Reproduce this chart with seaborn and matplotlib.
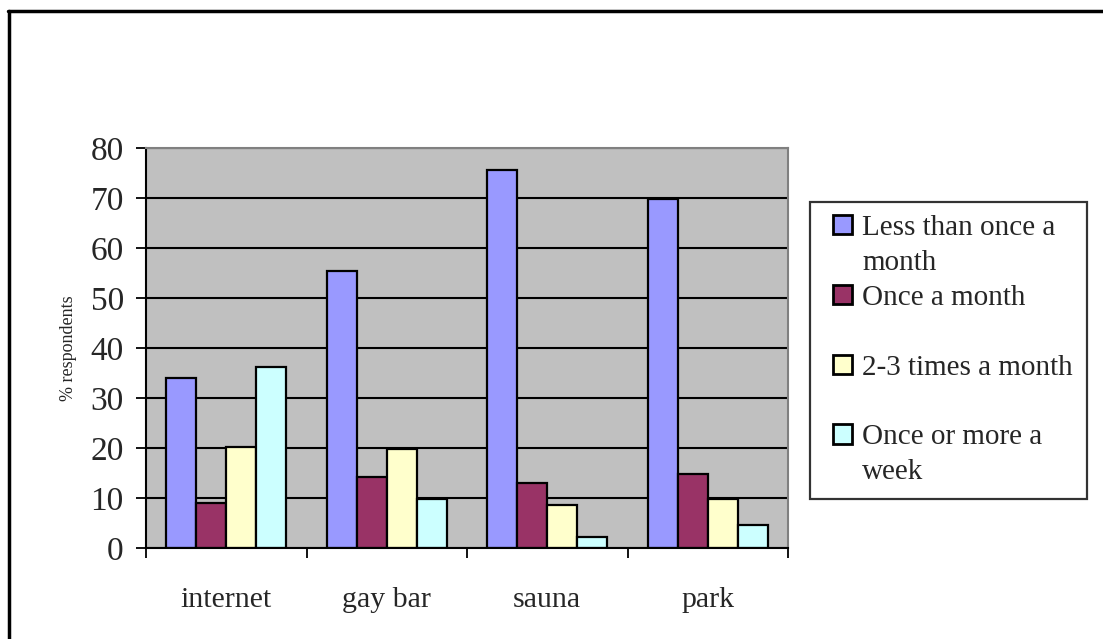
import pandas as pd
import matplotlib
matplotlib.use("Agg")
import matplotlib.pyplot as plt
from matplotlib.lines import Line2D
from matplotlib.offsetbox import DrawingArea
from matplotlib.ticker import FixedLocator
import seaborn as sns

# data
venues = ["internet", "gay bar", "sauna", "park"]
frequencies = ["Less than once a month", "Once a month",
               "2-3 times a month", "Once or more a week"]
less_than_monthly = [34.0, 55.5, 75.6, 69.9]
once_a_month = [9.1, 14.3, 13.1, 14.8]
two_three_monthly = [20.3, 19.9, 8.7, 9.9]
weekly_or_more = [36.3, 9.9, 2.3, 4.7]
legend_labels = ["Less than once a\nmonth", "Once a month\n ",
                 "2-3 times a month\n ", "Once or more a\nweek"]
colors = ["#9999FF", "#993366", "#FFFFCC", "#CCFFFF"]

rows = []
for series, vals in zip(frequencies, [less_than_monthly, once_a_month,
                                      two_three_monthly, weekly_or_more]):
    for v, val in zip(venues, vals):
        rows.append({"venue": v, "frequency": series, "pct": val})
df = pd.DataFrame(rows)

sns.set_style("white")
plt.rcParams["font.family"] = ["Liberation Serif", "DejaVu Serif"]

fig = plt.figure(figsize=(11.03, 6.39), dpi=100)
ax = fig.add_axes([146 / 1103, 1 - 548 / 639, 642 / 1103, 400 / 639])
ax.set_facecolor("#C0C0C0")

sns.barplot(data=df, x="venue", y="pct", hue="frequency", order=venues,
            hue_order=frequencies, palette=colors, width=0.75,
            edgecolor="black", linewidth=1.6, saturation=1, ax=ax,
            legend=True)

ax.set_ylim(0, 80)
ax.set_xlim(-0.5, 3.5)
ax.set_yticks(range(0, 81, 10))
ax.yaxis.grid(True, color="black", linewidth=1.5)
ax.set_axisbelow(True)
ax.tick_params(axis="y", labelsize=24, length=7, width=1.3, pad=9,
               color="black", left=True)
ax.tick_params(axis="x", which="major", labelsize=21.5, length=0, pad=28)
ax.xaxis.set_minor_locator(FixedLocator([-0.5, 0.5, 1.5, 2.5, 3.5]))
ax.tick_params(axis="x", which="minor", length=7, width=1.3,
               color="black", bottom=True)
ax.set_xlabel("")
ax.set_ylabel("% respondents", fontsize=13, labelpad=10)

for side in ["left", "bottom"]:
    ax.spines[side].set_color("black")
    ax.spines[side].set_linewidth(1.5)
for side in ["top", "right"]:
    ax.spines[side].set_color("#808080")
    ax.spines[side].set_linewidth(1.5)

handles, _ = ax.get_legend_handles_labels()
for h in handles:
    h.set_linewidth(2)
leg = ax.legend(handles, legend_labels, loc="upper left",
                bbox_to_anchor=(810 / 1103, 1 - 496 / 639,
                                277 / 1103, 294 / 639),
                bbox_transform=fig.transFigure, borderaxespad=0,
                mode="expand", fontsize=21, frameon=True, fancybox=False,
                edgecolor="black", handlelength=0.64, handleheight=0.64,
                handletextpad=0.35, labelspacing=0.3, borderpad=0.45)
leg.get_frame().set_linewidth(1.6)
for t in leg.get_texts():
    t.set_linespacing(1.45)
# handles sit on the first line of each label, slightly indented
for col in leg._legend_handle_box.get_children():
    for item in col.get_children():
        item.align = "top"
        item._children.insert(0, DrawingArea(0, 1))

# outer chart border (only top and left visible in the crop)
fig.add_artist(Line2D([8 / 1103, 1], [1 - 10.5 / 639, 1 - 10.5 / 639],
                      transform=fig.transFigure, color="black", linewidth=2.5))
fig.add_artist(Line2D([9 / 1103, 9 / 1103], [0, 1 - 10.5 / 639],
                      transform=fig.transFigure, color="black", linewidth=2.5))

fig.savefig("out.png", dpi=100, facecolor="white")
